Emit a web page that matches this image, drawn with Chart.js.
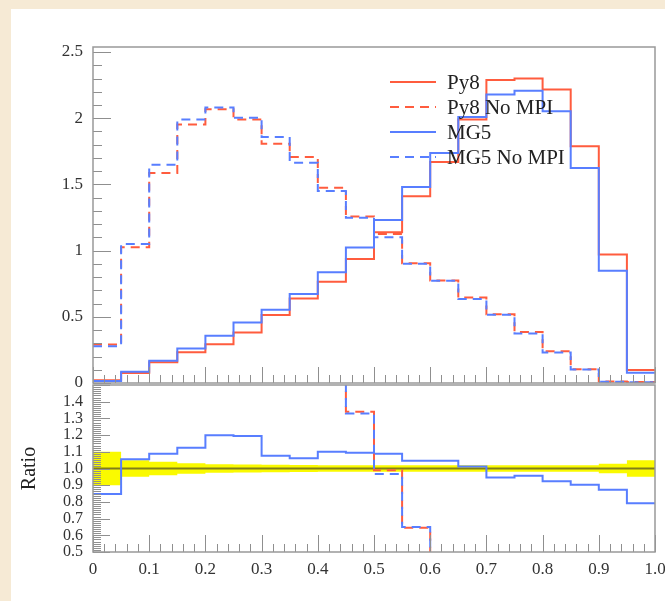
<!DOCTYPE html>
<html><head><meta charset="utf-8">
<script src="https://cdn.jsdelivr.net/npm/chart.js@4.4.1/dist/chart.umd.min.js"></script>
<style>
html,body{margin:0;padding:0;}
body{width:665px;height:601px;background:#f6ead5;position:relative;overflow:hidden;}
#card{position:absolute;left:11px;top:9px;right:0;bottom:0;background:#fff;}
canvas{position:absolute;left:0;top:0;}
</style></head><body>
<div id="card"></div>
<canvas id="topChart" width="665" height="601"></canvas>
<canvas id="botChart" width="665" height="601"></canvas>
<script>
// ---- data (bin edges 0..1, 20 bins) ----
const binEdges = [0,0.05,0.1,0.15,0.2,0.25,0.3,0.35,0.4,0.45,0.5,0.55,0.6,0.65,0.7,0.75,0.8,0.85,0.9,0.95,1.0];
const seriesNames = ['Py8','Py8 No MPI','MG5','MG5 No MPI'];
const py8      = [0.02,0.075,0.157,0.232,0.293,0.381,0.513,0.639,0.765,0.937,1.139,1.411,1.669,1.99,2.288,2.30,2.217,1.788,0.97,0.098];
const py8NoMPI = [0.29,1.025,1.586,1.952,2.068,1.99,1.808,1.707,1.475,1.258,1.126,0.905,0.775,0.645,0.52,0.386,0.24,0.104,0.012,0.008];
const mg5      = [0.015,0.085,0.169,0.26,0.356,0.457,0.553,0.672,0.836,1.023,1.232,1.48,1.737,2.01,2.18,2.207,2.053,1.624,0.848,0.078];
const mg5NoMPI = [0.278,1.05,1.649,1.99,2.081,2.003,1.858,1.664,1.45,1.248,1.10,0.9,0.773,0.634,0.515,0.374,0.23,0.102,0.01,0.005];

// ratio panel (relative to Py8)
const ratioPy8        = [1,1,1,1,1,1,1,1,1,1,1,1,1,1,1,1,1,1,1,1];
const ratioMG5        = [0.848,1.056,1.089,1.125,1.199,1.195,1.076,1.062,1.10,1.095,1.089,1.046,1.046,1.012,0.946,0.957,0.923,0.903,0.873,0.792];
const ratioPy8NoMPI   = [14.5,13.7,10.1,8.4,7.06,5.22,3.52,2.67,1.93,1.34,0.99,0.645,0.46,0.32,0.23,0.17,0.11,0.06,0.012,0.08];
const ratioMG5NoMPI   = [13.9,14.0,10.5,8.6,7.1,5.26,3.62,2.6,1.9,1.33,0.967,0.649,0.46,0.32,0.23,0.16,0.10,0.057,0.01,0.05];
const bandHi = [1.10,1.05,1.04,1.032,1.026,1.024,1.022,1.021,1.02,1.02,1.02,1.02,1.02,1.02,1.02,1.02,1.02,1.02,1.028,1.05];
const bandLo = [0.90,0.95,0.96,0.968,0.974,0.976,0.978,0.979,0.98,0.98,0.98,0.98,0.98,0.98,0.98,0.98,0.98,0.98,0.972,0.95];

// tick labels
const topYTicks   = ['0','0.5','1','1.5','2','2.5'];
const ratioYTicks = ['0.5','0.6','0.7','0.8','0.9','1.0','1.1','1.2','1.3','1.4'];
const xTicks      = ['0','0.1','0.2','0.3','0.4','0.5','0.6','0.7','0.8','0.9','1.0'];

// ---- styles ----
const RED = 'rgb(255,92,62)';
const BLUE = 'rgb(88,126,255)';
const OLIVE = 'rgb(128,126,24)';
const YELLOW = 'rgb(250,250,0)';
const FONT = '"Liberation Serif", "DejaVu Serif", serif';
const DASH = [9,6];

function steps(vals){ return binEdges.map((e,i)=>({x:e, y:vals[Math.min(i, vals.length-1)]})); }

function fixedTicks(labels){
  return {
    afterBuildTicks: s => { s.ticks = labels.map(l => ({value: parseFloat(l)})); },
    cb: (v, i) => labels[i]
  };
}

// inside ticks + frame, ROOT style
function frameTicks(id, cfg){
  return { id, afterDatasetsDraw(chart){
    const {ctx, chartArea:a, scales} = chart; const x = scales.x, y = scales.y;
    ctx.save();
    ctx.strokeStyle = '#8f8f8f'; ctx.lineWidth = 1;
    const nY = Math.round((cfg.yMax - cfg.yMin)/cfg.yMinor);
    const perY = Math.round(cfg.yMajor/cfg.yMinor);
    for (let k=0;k<=nY;k++){
      const v = cfg.yMin + k*cfg.yMinor;
      const p = Math.round(y.getPixelForValue(v)) + 0.5;
      const len = (k % perY === 0) ? cfg.yMajLen : cfg.yMinLen;
      ctx.beginPath(); ctx.moveTo(a.left, p); ctx.lineTo(a.left+len, p); ctx.stroke();
    }
    const nX = Math.round(1/cfg.xMinor), perX = Math.round(0.1/cfg.xMinor);
    for (let k=0;k<=nX;k++){
      const v = k*cfg.xMinor;
      const p = Math.round(x.getPixelForValue(v)) + 0.5;
      const len = (k % perX === 0) ? cfg.xMajLen : cfg.xMinLen;
      ctx.beginPath(); ctx.moveTo(p, a.bottom); ctx.lineTo(p, a.bottom-len); ctx.stroke();
    }
    ctx.strokeStyle = '#999'; ctx.lineWidth = 1.5;
    ctx.strokeRect(a.left, a.top, a.right-a.left, a.bottom-a.top);
    ctx.restore();
  }};
}

const legendPlugin = { id:'innerLegend', afterDraw(chart){
  const ctx = chart.ctx; ctx.save();
  chart.data.datasets.forEach((ds, i) => {
    const yy = 82 + i*25;
    ctx.strokeStyle = ds.borderColor; ctx.lineWidth = 2;
    ctx.setLineDash(ds.borderDash || []);
    ctx.beginPath(); ctx.moveTo(390, yy); ctx.lineTo(436, yy); ctx.stroke();
    ctx.setLineDash([]);
    ctx.fillStyle = '#222'; ctx.font = '21px ' + FONT; ctx.textBaseline = 'middle'; ctx.textAlign = 'left';
    ctx.fillText(ds.label, 447, yy + 1);
  });
  ctx.restore();
}};

const common = { responsive:false, animation:false, devicePixelRatio:1,
  elements:{ point:{radius:0, hoverRadius:0}, line:{tension:0} },
  events: [] };

// ---------- top chart ----------
const tY = fixedTicks(topYTicks);
new Chart(document.getElementById('topChart'), {
  type:'line',
  data:{ datasets:[
    {label:seriesNames[0], data:steps(py8), borderColor:RED, borderWidth:2, stepped:true, order:4},
    {label:seriesNames[1], data:steps(py8NoMPI), borderColor:RED, borderWidth:2, borderDash:DASH, stepped:true, order:3},
    {label:seriesNames[2], data:steps(mg5), borderColor:BLUE, borderWidth:2, stepped:true, order:2},
    {label:seriesNames[3], data:steps(mg5NoMPI), borderColor:BLUE, borderWidth:2, borderDash:DASH, stepped:true, order:1}
  ]},
  options:Object.assign({}, common, {
    layout:{ padding:{top:47, right:10, bottom:218, left:0} },
    plugins:{ legend:{display:false}, tooltip:{enabled:false} },
    scales:{
      x:{ type:'linear', min:0, max:1, display:false },
      y:{ type:'linear', min:0, max:2.538,
          grid:{display:false, drawTicks:false}, border:{display:false},
          afterBuildTicks: tY.afterBuildTicks,
          afterFit: s => { s.width = 93; s.paddingTop = 0; s.paddingBottom = 0; },
          ticks:{ callback: tY.cb, padding:10, autoSkip:false, color:'#333', font:{family:FONT, size:17} } }
    }
  }),
  plugins:[frameTicks('ftTop',{yMin:0,yMax:2.5,yMinor:0.1,yMajor:0.5,yMajLen:18,yMinLen:9,xMinor:0.02,xMajLen:16,xMinLen:8}), legendPlugin]
});

// ---------- ratio chart ----------
const rY = fixedTicks(ratioYTicks);
const rX = fixedTicks(xTicks);
new Chart(document.getElementById('botChart'), {
  type:'line',
  data:{ datasets:[
    {label:'bandLo', data:steps(bandLo), borderWidth:0, borderColor:'rgba(0,0,0,0)', stepped:true, fill:false, order:6},
    {label:'bandHi', data:steps(bandHi), borderWidth:0, borderColor:'rgba(0,0,0,0)', backgroundColor:YELLOW, stepped:true, fill:'-1', order:5},
    {label:'Py8', data:steps(ratioPy8), borderColor:OLIVE, borderWidth:2, stepped:true, order:4},
    {label:'MG5', data:steps(ratioMG5), borderColor:BLUE, borderWidth:2, stepped:true, order:3},
    {label:'Py8 No MPI', data:steps(ratioPy8NoMPI), borderColor:RED, borderWidth:2, borderDash:DASH, stepped:true, order:2, clip:0},
    {label:'MG5 No MPI', data:steps(ratioMG5NoMPI), borderColor:BLUE, borderWidth:2, borderDash:DASH, stepped:true, order:1, clip:0}
  ]},
  options:Object.assign({}, common, {
    layout:{ padding:{top:385, right:10, bottom:0, left:0} },
    plugins:{ legend:{display:false}, tooltip:{enabled:false} },
    scales:{
      x:{ type:'linear', min:0, max:1,
          grid:{display:false, drawTicks:false}, border:{display:false},
          afterBuildTicks: rX.afterBuildTicks,
          afterFit: s => { s.height = 49; s.paddingLeft = 0; s.paddingRight = 0; },
          ticks:{ callback: rX.cb, padding:7, color:'#333', maxRotation:0, autoSkip:false, font:{family:FONT, size:17} } },
      y:{ type:'linear', min:0.5, max:1.5,
          grid:{display:false, drawTicks:false}, border:{display:false},
          afterBuildTicks: rY.afterBuildTicks,
          afterFit: s => { s.width = 93; s.paddingTop = 0; s.paddingBottom = 0; },
          title:{ display:true, text:'Ratio', color:'#222', font:{family:FONT, size:20}, padding:{top:18, bottom:0} },
          ticks:{ callback: rY.cb, padding:10, autoSkip:false, color:'#333', font:{family:FONT, size:16} } }
    }
  }),
  plugins:[frameTicks('ftBot',{yMin:0.5,yMax:1.5,yMinor:0.0125,yMajor:0.1,yMajLen:17,yMinLen:8,xMinor:0.02,xMajLen:17,xMinLen:8})]
});
</script>
</body></html>
